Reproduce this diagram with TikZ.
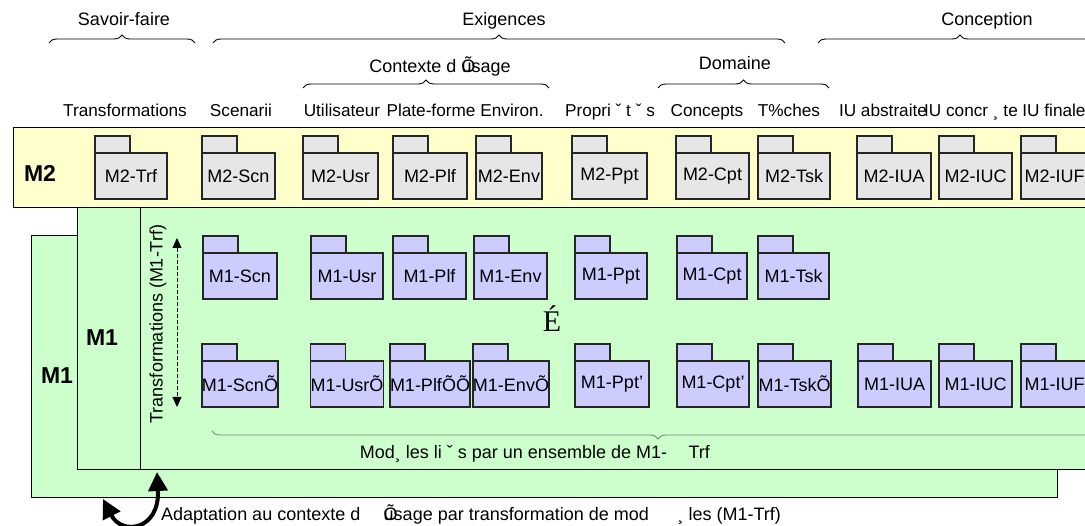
\documentclass[tikz,border=0pt]{standalone}
\usepackage{fontspec}
\setmainfont{Liberation Sans}
\newfontfamily\dotsfont{Liberation Serif}
\usepackage{xcolor}
\usepackage{tikz}
\usetikzlibrary{arrows.meta,positioning,calc,decorations.pathreplacing}

\definecolor{bandyellow}{HTML}{FFFFCC}
\definecolor{panelgreen}{HTML}{CCFFCC}
\definecolor{pkggray}{HTML}{E6E6E6}
\definecolor{pkgblue}{HTML}{CCCCFF}

\begin{document}
\begin{tikzpicture}[x=1pt, y=-1pt,
  txt/.style={font=\fontsize{18}{20}\selectfont, inner sep=0pt, anchor=base},
  coltxt/.style={font=\fontsize{17.2}{20}\selectfont, inner sep=0pt, anchor=base},
  big/.style={font=\fontsize{23}{26}\selectfont\bfseries, inner sep=0pt},
  panel/.style={draw, line width=1pt, inner sep=0pt, outer sep=0pt, anchor=north west},
  pkg/.style={draw=black!85, line width=1.2pt, inner sep=0pt, outer sep=0pt, minimum height=46pt, font=\fontsize{18}{20}\selectfont},
  tab/.style={draw=black!85, line width=1.2pt},
  brc/.style={decorate, decoration={brace, amplitude=8pt}, line width=0.9pt},
  brcdown/.style={decorate, decoration={brace, mirror, amplitude=8pt}, line width=0.9pt, draw=black!50},
  dbl/.style={{Triangle[length=10pt,width=9pt]}-{Triangle[length=10pt,width=9pt]}, dash pattern=on 4pt off 2pt, line width=0.8pt},
  looparr/.style={{Triangle[length=19pt,width=19pt]}-{Triangle[length=19pt,width=19pt]}, line width=4pt}
]
\clip (0,0) rectangle (1085,526);

% group labels and braces
\node[txt] (savoir) at (124,26) {Savoir-faire};
\node[txt] (exig)   at (504,26) {Exigences};
\node[txt] (concep) at (987,26) {Conception};
\draw[brc] (49,43) -- (195,43);
\draw[brc] (213,43) -- (785,43);
\draw[brc] (818,43) -- (1102,43);
\node[txt] (ctx) at (440,73) {Contexte d \rlap{Õ}usage};
\node[txt] (dom) at (735,70) {Domaine};
\draw[brc] (303,88) -- (549,88);
\draw[brc] (658,88) -- (829,88);

% column titles
\foreach \x/\t in {125/Transformations, 241/Scenarii, 342/Utilisateur, 431/Plate-forme,
  512/Environ., 610/Propri ˇ t ˇ s, 707/Concepts, 789/T\%ches, 883/IU abstraite,
  971/IU concr ¸ te, 1054/IU finale}
  \node[coltxt] at (\x,117) {\t};

% M1 panels, then the M2 band on top
\node[panel, fill=panelgreen, minimum width=1026pt, minimum height=262pt] (m1back) at (31,236) {};
\node[panel, fill=panelgreen, minimum width=1030pt, minimum height=262pt] (m1front) at (77,208) {};
\draw[line width=1pt] (140,208) -- (140,470);
\node[panel, fill=bandyellow, minimum width=1090pt, minimum height=80pt] (m2band) at (13,128) {};

\node[big] (m2lbl) at (40,173) {M2};
\node[big] (m1lbl) at (102,338) {M1};
\node[big] (m1out) at (57,376) {M1};

% M2 packages
\foreach \nm/\xa/\xb/\lbl in {trf/95/167/M2-Trf, scn/202/275/M2-Scn, usr/303/378/M2-Usr,
  plf/393/467/M2-Plf, env/476/542/M2-Env, ppt/572/647/M2-Ppt, cpt/676/749/M2-Cpt,
  tsk/758/830/M2-Tsk, iua/857/931/M2-IUA, iuc/939/1012/M2-IUC, iuf/1021/1088/M2-IUF}{
  \node[pkg, fill=pkggray, minimum width=\xb-\xa] (m2\nm) at ({(\xa+\xb)/2},176) {\lbl};
  \draw[tab, fill=pkggray] (m2\nm.north west) rectangle ++(35,-17);
}

% M1 packages, first row
\foreach \nm/\xa/\xb/\lbl in {scn/203/277/M1-Scn, usr/311/383/M1-Usr, plf/393/466/M1-Plf,
  env/474/547/M1-Env, ppt/575/647/M1-Ppt, cpt/677/747/M1-Cpt, tsk/758/829/M1-Tsk}{
  \node[pkg, fill=pkgblue, minimum width=\xb-\xa] (m1\nm) at ({(\xa+\xb)/2},276) {\lbl};
  \draw[tab, fill=pkgblue] (m1\nm.north west) rectangle ++(35,-17);
}

% M1 packages, second row
\foreach \nm/\xa/\xb/\lbl in {scn/203/277/M1-ScnÕ, usr/311/383/M1-UsrÕ, plf/393/467/M1-PlfÕÕ,
  env/474/548/M1-EnvÕ, ppt/575/649/M1-Ppt', cpt/677/749/M1-Cpt', tsk/758/831/M1-TskÕ,
  iua/858/931/M1-IUA, iuc/939/1012/M1-IUC, iuf/1021/1088/M1-IUF}{
  \node[pkg, fill=pkgblue, minimum width=\xb-\xa] (n1\nm) at ({(\xa+\xb)/2},384) {\lbl};
  \draw[tab, fill=pkgblue] (n1\nm.north west) rectangle ++(35,-17);
}

\node[font=\dotsfont\fontsize{30}{32}\selectfont, inner sep=0pt] (etc) at (552,319) {É};

% transformations between the two rows
\node[txt, anchor=center, rotate=90] (trflbl) at (158,324) {Transformations (M1-Trf)};
\coordinate (trftop) at (177,238);
\coordinate (trfbot) at (177,407);
\draw[dbl] (trftop) -- (trfbot);

\draw[brcdown] (212,431) -- (1104,431);
\node[txt] (linked) at (535,459) {Mod¸ les li ˇ s par un ensemble de M1-\hspace{1.2em}Trf};

% adaptation loop
\coordinate (adpl) at (103,499);
\coordinate (adpr) at (157,472);
\draw[looparr] (adpl) .. controls (122,536) and (160,530) .. (adpr);
\node[txt, anchor=base west] (adapt) at (161,521) {Adaptation au contexte d\hspace{1.3em}\rlap{Õ}usage par transformation de mod\hspace{1.6em}¸ les (M1-Trf)};
\end{tikzpicture}
\end{document}
